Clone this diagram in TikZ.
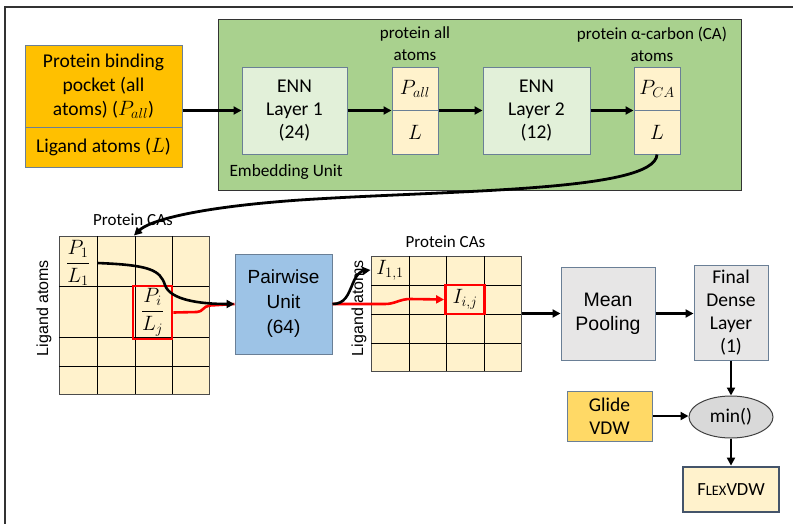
\documentclass[tikz,border=0pt]{standalone}
\usepackage{amsmath}
\usepackage{fontspec}
\setmainfont{Carlito}
\newfontfamily\arialf{Liberation Sans}
\usetikzlibrary{arrows.meta,shapes.geometric,fit,calc}
\definecolor{orangeF}{HTML}{FFC000}
\definecolor{greenF}{HTML}{A9D18E}
\definecolor{ennF}{HTML}{E2F0D9}
\definecolor{creamF}{HTML}{FFF2CC}
\definecolor{blueF}{HTML}{9DC3E6}
\definecolor{grayF}{HTML}{E7E6E6}
\definecolor{glideF}{HTML}{FFD966}
\definecolor{ellF}{HTML}{D9D9D9}
\definecolor{slate}{HTML}{44546A}
\definecolor{edgeB}{HTML}{6A7F96}
\definecolor{redL}{HTML}{FF0000}
\tikzset{
  box/.style={draw=edgeB, line width=1pt, rectangle, inner sep=0pt, align=center},
  txt/.style={font=\fontsize{19.5}{23}\selectfont},
  mth/.style={font=\fontsize{20}{22}\selectfont},
  arr/.style={line width=2.6pt, -{Triangle[length=8pt,width=8pt]}},
  redarr/.style={line width=2.6pt, draw=redL, -{Triangle[length=8pt,width=8pt]}},
  redline/.style={line width=2.6pt, draw=redL},
  gridbg/.style={draw=black!70, line width=1pt, fill=creamF, inner sep=0pt},
  gridline/.style={draw=black, line width=0.9pt},
  redbox/.style={draw=redL, line width=2.8pt, inner sep=0pt, align=center},
  small/.style={font=\fontsize{17}{22}\selectfont, align=center},
}
\begin{document}
\begin{tikzpicture}[x=1pt,y=-1pt]
\useasboundingbox (0,0) rectangle (793,523);
\begin{scope}
\clip (0,0) rectangle (793,523);
\draw[line width=2.4pt, black!80] (5,540) -- (5,7) -- (810,7);
\end{scope}

% ---------- Embedding unit ----------
\node[draw=black!80, line width=1pt, fill=greenF, minimum width=523pt, minimum height=171pt, inner sep=0pt] (emb) at (479.5,104.5) {};
\node[anchor=west, font=\fontsize{17.3}{20}\selectfont] (embl) at (226,172) {Embedding Unit};

\node[box, fill=orangeF, minimum width=157pt, minimum height=82pt, font=\fontsize{19.5}{24}\selectfont] (pocket) at (103.5,86) {Protein binding\\pocket (all\\atoms) ($P_{all}$)};
\node[box, fill=orangeF, txt, minimum width=157pt, minimum height=40pt] (lig) at (103.5,147) {Ligand atoms ($L$)};
\node[fit=(pocket)(lig), inner sep=0pt] (inp) {};

\node[box, fill=ennF, txt, minimum width=105pt, minimum height=87pt] (enn1) at (294.5,110.5) {ENN\\Layer 1\\(24)};
\node[box, fill=ennF, txt, minimum width=107pt, minimum height=87pt] (enn2) at (536.5,110.5) {ENN\\Layer 2\\(12)};

\node[box, fill=creamF, minimum width=46pt, minimum height=43pt, mth] (pallT) at (415,88.5) {$P_{all}$};
\node[box, fill=creamF, minimum width=46pt, minimum height=44pt, mth] (pallB) at (415,132) {$L$};
\node[box, fill=creamF, minimum width=46pt, minimum height=43pt, mth] (pcaT) at (657,88.5) {$P_{CA}$};
\node[box, fill=creamF, minimum width=46pt, minimum height=44pt, mth] (pcaB) at (657,132) {$L$};

\node[small] (lab1) at (415,44) {protein all\\atoms};
\node[small] (lab2) at (652,44) {protein α-carbon (CA)\\atoms};

\draw[arr] (enn1.west -| inp.east) -- (enn1.west);
\draw[arr] (enn1.east) -- (enn1.east -| pallT.west);
\draw[arr] (enn2.west -| pallT.east) -- (enn2.west);
\draw[arr] (enn2.east) -- (enn2.east -| pcaT.west);

% ---------- Left grid ----------
\node[gridbg, minimum width=150pt, minimum height=158pt] (g1) at (134,315) {};
\draw[gridline] (97,236)--(97,394) (135,236)--(135,394) (172,236)--(172,394)
  (59,286)--(209,286) (59,337)--(209,337) (59,366)--(209,366);
\node[mth, inner sep=0pt, minimum width=38pt] (p1) at (78,263) {$\dfrac{P_1}{L_1}$};
\node[redbox, minimum width=39pt, minimum height=53pt, mth] (redLb) at (152.5,312.5) {$\dfrac{P_i}{L_j}$};
\node[font=\fontsize{17}{20}\selectfont] (pc1) at (133,220) {Protein CAs};
\node[rotate=90, font=\arialf\fontsize{16}{18}\selectfont] (la1) at (44,308) {Ligand atoms};

% ---------- Pairwise ----------
\node[box, fill=blueF, minimum width=97pt, minimum height=100pt, font=\arialf\fontsize{19}{25}\selectfont] (pair) at (283.5,304) {Pairwise\\Unit\\(64)};

% ---------- Right grid ----------
\node[gridbg, minimum width=150pt, minimum height=115pt] (g2) at (446,313.5) {};
\draw[gridline] (409,256)--(409,371) (446,256)--(446,371) (484,256)--(484,371)
  (371,285)--(521,285) (371,314)--(521,314) (371,343)--(521,343);
\node[mth] (i11) at (390,270) {$I_{1,1}$};
\node[redbox, minimum width=39pt, minimum height=29pt, mth] (redRb) at (465,299.5) {$I_{i,j}$};
\node[font=\fontsize{17}{20}\selectfont] (pc2) at (445.5,242) {Protein CAs};
\node[rotate=90, font=\arialf\fontsize{16}{18}\selectfont] (la2) at (359,308) {Ligand atoms};

% ---------- Right part ----------
\node[box, fill=grayF, minimum width=94pt, minimum height=93pt, font=\arialf\fontsize{19.5}{24}\selectfont] (mean) at (608,313.5) {Mean\\Pooling};
\node[box, fill=grayF, txt, minimum width=74pt, minimum height=95pt] (final) at (731,312.5) {Final\\Dense\\Layer\\(1)};
\node[box, fill=glideF, txt, minimum width=85pt, minimum height=50pt] (glide) at (609.5,416) {Glide\\VDW};
\node[ellipse, draw=black!75, line width=1pt, fill=ellF, minimum width=84pt, minimum height=42pt, inner sep=0pt, txt] (mn) at (731,417) {min()};
\node[draw=slate, line width=2.8pt, fill=creamF, minimum width=96pt, minimum height=45pt, inner sep=0pt, font=\fontsize{18.5}{22}\selectfont] (flex) at (731,489.5) {F{\fontsize{14.5}{16}\selectfont LEX}VDW};

% ---------- connectors ----------
\draw[line width=2.8pt, -{Triangle[length=8pt,width=8pt]}] (pcaB.south) .. controls (655,192) and (450,190) .. (300,200) .. controls (200,207) and (150,220) .. (g1.north);
\draw[redline] (redLb.east) -- (197,312) .. controls (203,312) and (203,306) .. (210,305.5) -- (pair.west);
\draw[arr] (p1.east) .. controls (150,265) and (160,270) .. (165,285) .. controls (170,300) and (200,304) .. (pair.west);
\draw[redarr] (pair.east) -- (385,304) .. controls (395,304) and (400,299) .. (410,299) -- (redRb.west);
\draw[arr] (pair.east) .. controls (345,304) and (348,295) .. (353,283) .. controls (357,273) and (362,271) .. (g2.west |- i11);
\draw[arr] (g2.east) -- (mean.west);
\draw[arr] (mean.east) -- (mean.east -| final.west);
\draw[arr] (final.south) -- (mn.north);
\draw[arr] (glide.east) -- (glide.east -| mn.west);
\draw[arr] (mn.south) -- (flex.north);
\end{tikzpicture}
\end{document}
